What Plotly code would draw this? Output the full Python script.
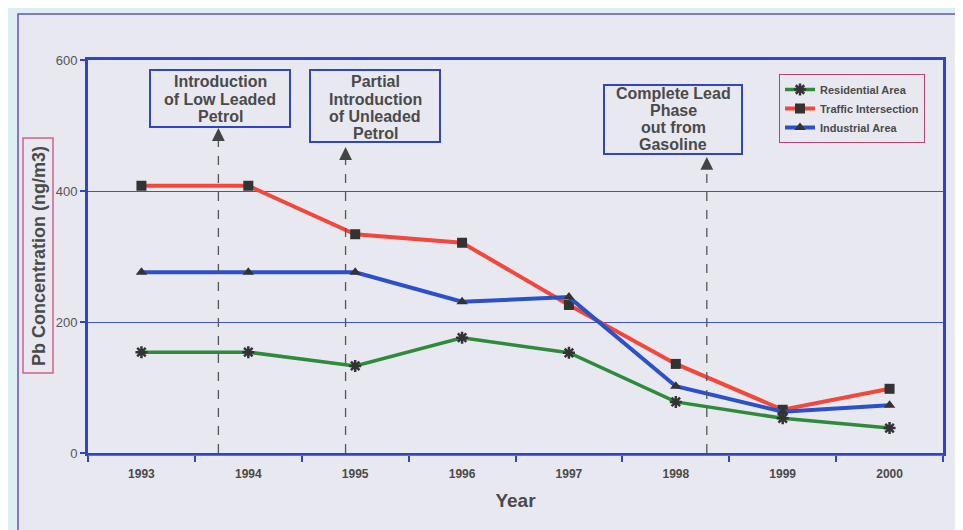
import plotly.graph_objects as go

years = ["1993", "1994", "1995", "1996", "1997", "1998", "1999", "2000"]
residential = [154, 154, 133, 176, 153, 78, 53, 38]
traffic = [408, 408, 334, 321, 226, 136, 66, 98]
industrial = [276, 276, 276, 231, 238, 102, 63, 73]

event_lines = [["Introduction", "of Low Leaded", "Petrol"],
               ["Partial", "Introduction", "of Unleaded", "Petrol"],
               ["Complete Lead", "Phase", "out from", "Gasoline"]]
event_x = [0.72, 1.91, 5.29]
event_tip = [496, 467, 452]

# page body has an 8px margin; compensate
OFF = 8
W, H = 963 - OFF, 530 - OFF
L, T = 88 - OFF, 60 - OFF
R = W - (943 - OFF)
B = H - (453 - OFF)
pw, ph = 855, 393


def px(x):
    return (x - 88) / pw


def py(y):
    return (453 - y) / ph


BLUE = "#2f45c4"
DARK = "#333333"
TXT = "#4a4a4a"
FONT = "Liberation Sans"

fig = go.Figure()
fig.add_trace(go.Scatter(x=years, y=residential, name="Residential Area", mode="lines+markers",
                         line=dict(color="#2f8a3c", width=3.5),
                         marker=dict(symbol="asterisk", size=10, color=DARK,
                                     line=dict(color=DARK, width=2.5))))
fig.add_trace(go.Scatter(x=years, y=traffic, name="Traffic Intersection", mode="lines+markers",
                         line=dict(color="#f2473a", width=4),
                         marker=dict(symbol="square", size=10, color=DARK)))
fig.add_trace(go.Scatter(x=years, y=industrial, name="Industrial Area", mode="lines+markers",
                         line=dict(color="#2c50c8", width=4),
                         marker=dict(symbol="triangle-up", size=10, color=DARK)))

shapes = []
# page frame
shapes.append(dict(type="rect", xref="paper", yref="paper", x0=px(18), x1=px(975), y0=py(545), y1=py(14),
                   line=dict(color="#6a4fc0", width=1.5), fillcolor="#e8e8f0", layer="below"))
# dashed event lines
for ex, et in zip(event_x, event_tip):
    shapes.append(dict(type="line", xref="x", yref="y", x0=ex, x1=ex, y0=0, y1=et - 15,
                       line=dict(color="#555555", width=1.3, dash="dash")))
# red under edge of bottom axis
shapes.append(dict(type="line", xref="paper", yref="paper", x0=0, x1=1, y0=py(455.5), y1=py(455.5),
                   line=dict(color="#e0406a", width=1.2)))

# event boxes (pixel geometry of reference)
boxes = [(150, 290, 70, 127), (310, 440, 70, 142), (604, 742, 85, 154)]
line_y0 = [82, 82, 93]
annotations = []
for (x0, x1, y0, y1), lines, ly in zip(boxes, event_lines, line_y0):
    shapes.append(dict(type="rect", xref="paper", yref="paper", x0=px(x0), x1=px(x1),
                       y0=py(y1), y1=py(y0), line=dict(color=BLUE, width=2), fillcolor="#e8e8f0"))
    for i, t in enumerate(lines):
        annotations.append(dict(text=t, xref="paper", yref="paper", x=px((x0 + x1) / 2),
                                y=py(ly + 17 * i), showarrow=False,
                                xanchor="center", yanchor="middle",
                                font=dict(family=FONT, size=16, color=TXT, weight="bold")))
for ex, et in zip(event_x, event_tip):
    annotations.append(dict(text="", x=ex, y=et, ax=ex, ay=et - 12, xref="x", yref="y",
                            axref="x", ayref="y", showarrow=True, arrowhead=2, arrowsize=1.6,
                            arrowwidth=1.6, arrowcolor="#444444"))
# y title box
shapes.append(dict(type="rect", xref="paper", yref="paper", x0=px(23), x1=px(53), y0=py(373), y1=py(138),
                   line=dict(color="#d0608a", width=1.5)))
annotations.append(dict(text="Pb Concentration (ng/m3)", xref="paper", yref="paper",
                        x=px(39), y=py(256), textangle=-90, showarrow=False,
                        xanchor="center", yanchor="middle",
                        font=dict(family=FONT, size=18, color=TXT, weight="bold")))

fig.update_layout(
    width=W, height=H,
    margin=dict(l=L, r=R, t=T, b=B),
    paper_bgcolor="#dcf0f4",
    plot_bgcolor="#e8e8f0",
    shapes=shapes,
    annotations=annotations,
    showlegend=True,
    legend=dict(x=px(779), y=py(74), xanchor="left", yanchor="top",
                bgcolor="#e8e8f0", bordercolor="#c04070", borderwidth=1,
                font=dict(family=FONT, size=11, color=TXT, weight="bold"),
                itemwidth=30, tracegroupgap=2),
    xaxis=dict(type="category", range=[-0.5, 7.5], showgrid=False,
               showline=True, linecolor=BLUE, linewidth=3, mirror=True,
               ticks="outside", tickson="boundaries", ticklen=6, tickcolor=BLUE, tickwidth=2,
               ticklabelstandoff=8,
               tickfont=dict(family=FONT, size=12, color=TXT, weight="bold"),
               title=dict(text="Year", font=dict(family=FONT, size=19, color=TXT, weight="bold"),
                          standoff=14),
               zeroline=False),
    yaxis=dict(range=[0, 600], tickvals=[0, 200, 400, 600], showgrid=True,
               gridcolor="#3c55d0", gridwidth=1,
               showline=True, linecolor=BLUE, linewidth=3, mirror=True,
               ticks="outside", ticklen=5, tickcolor=BLUE, tickwidth=2,
               tickfont=dict(family=FONT, size=13, color="#555555"),
               zeroline=False),
)

fig.write_html("out.html")
